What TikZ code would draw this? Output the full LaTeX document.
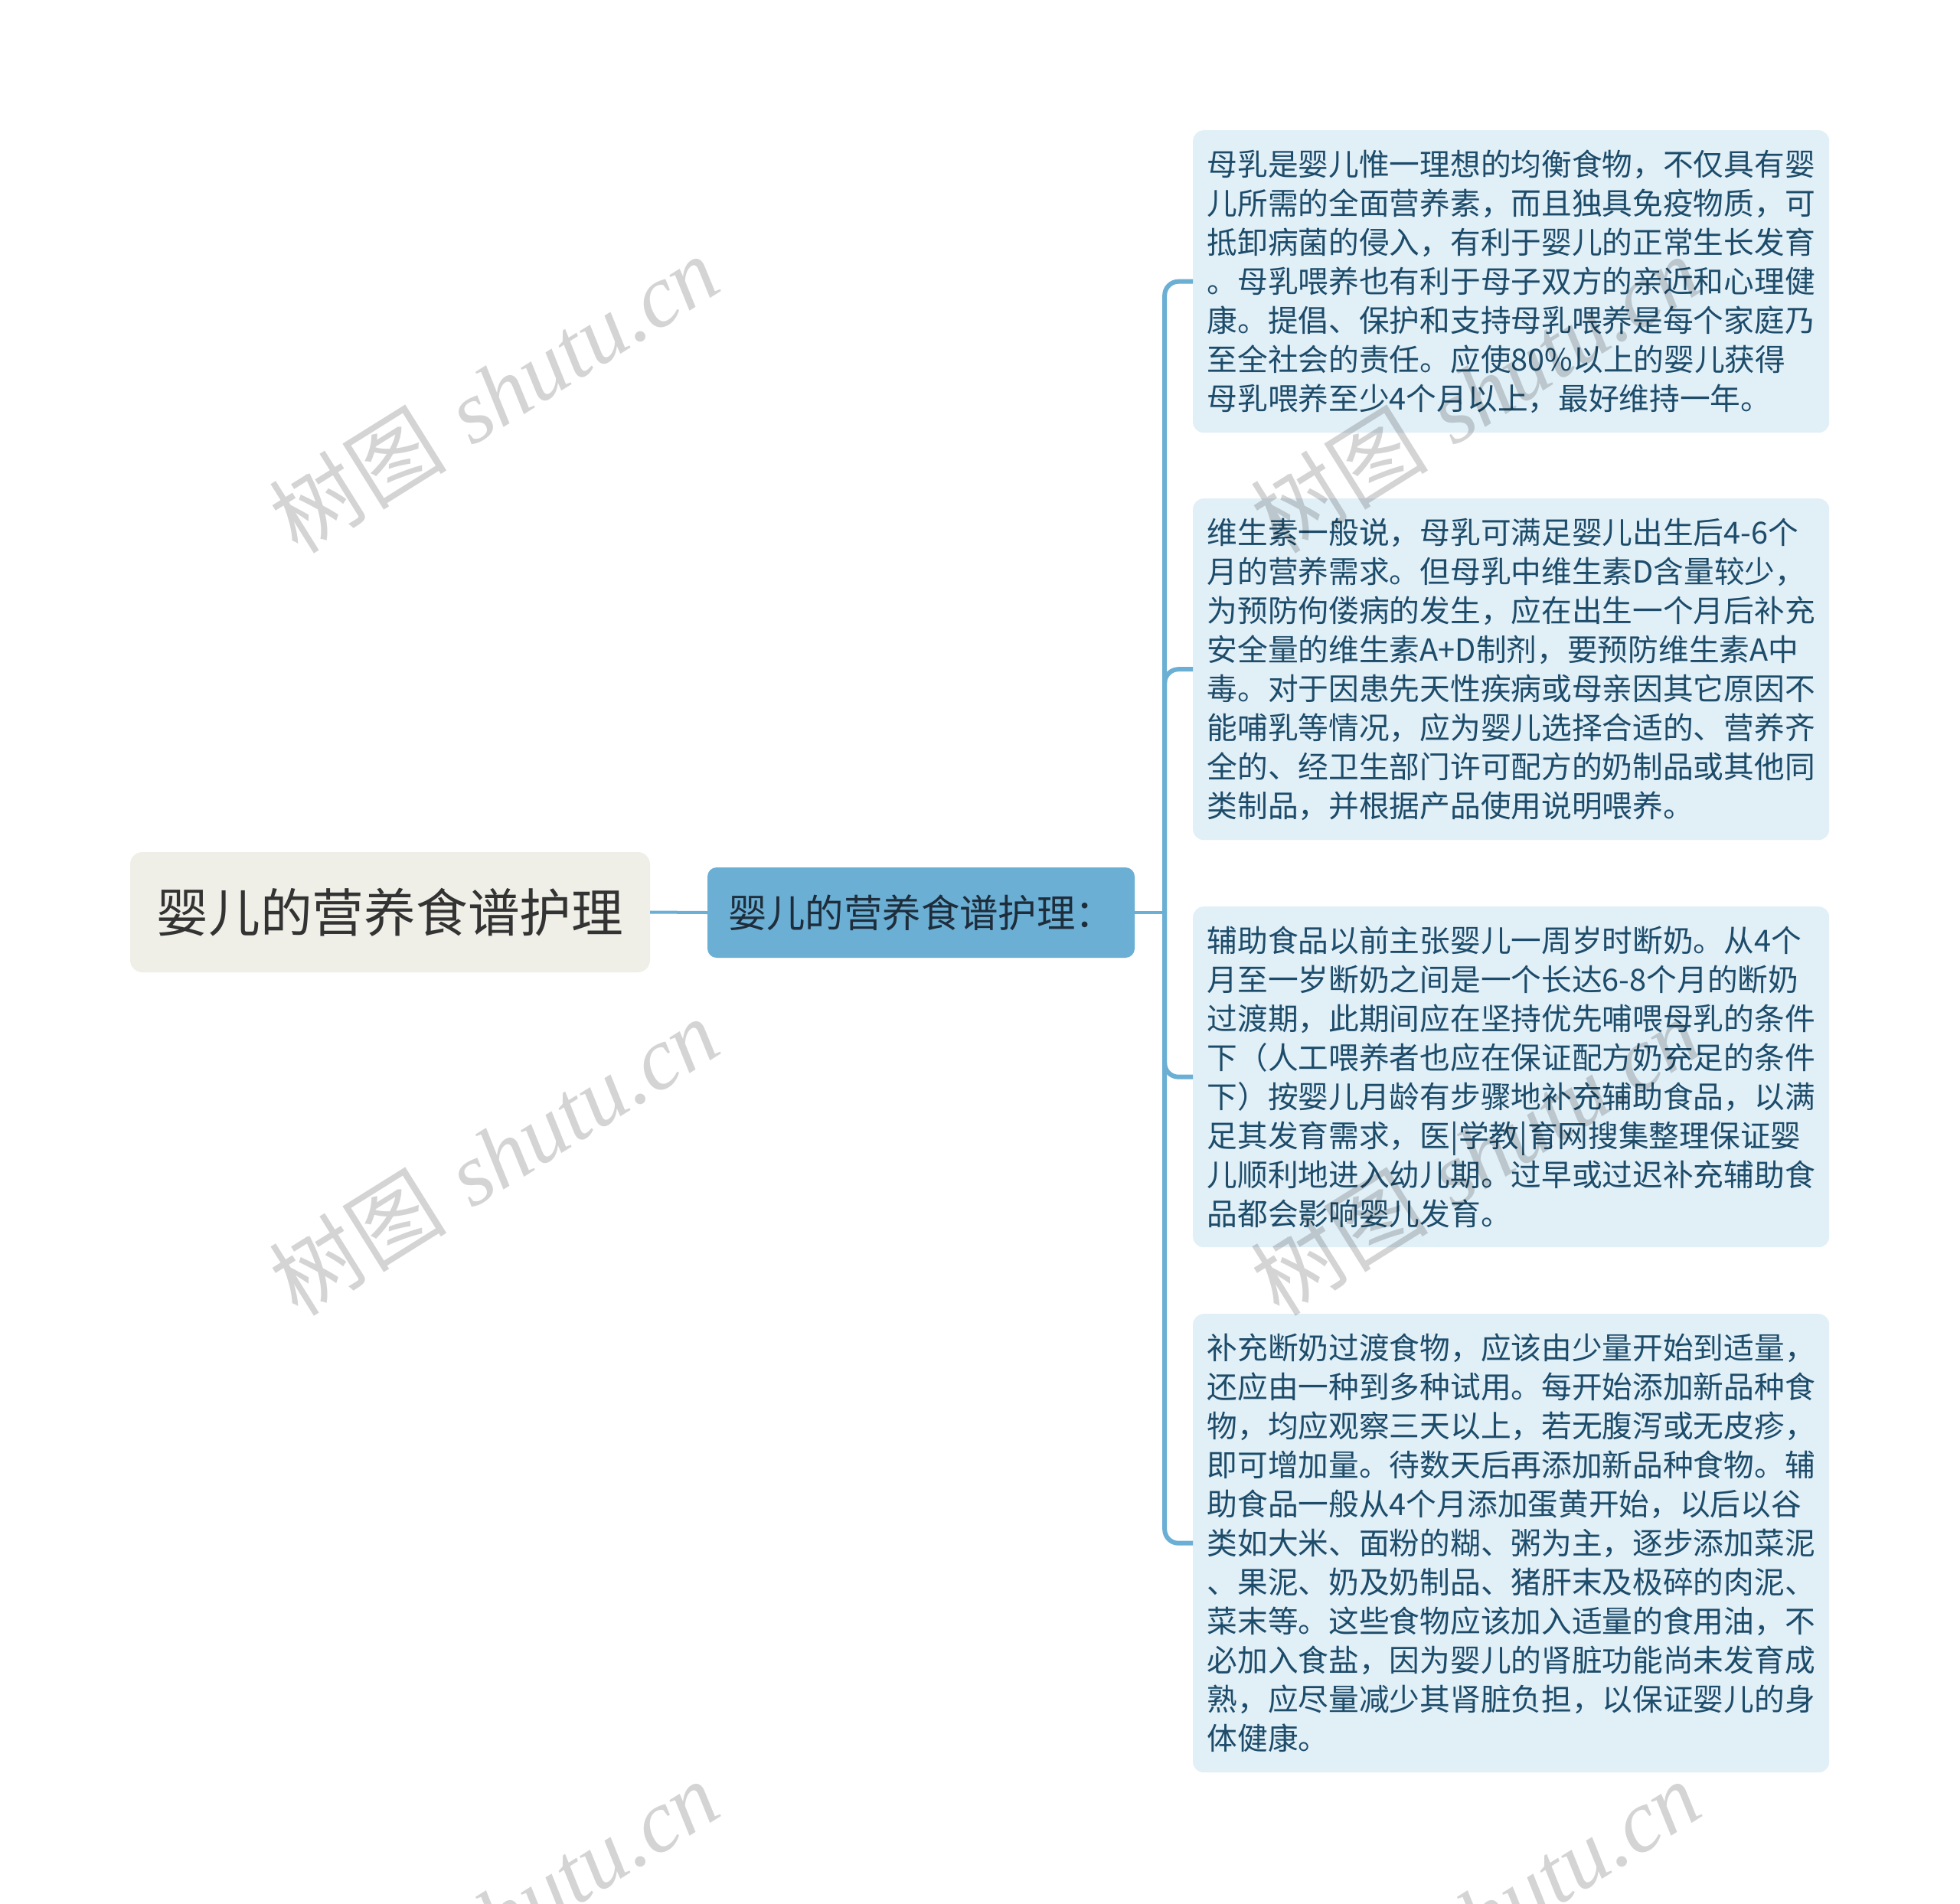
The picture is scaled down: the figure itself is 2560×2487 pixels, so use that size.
\documentclass[tikz,border=0pt]{standalone}
\usepackage{fontspec}
\newfontfamily\cjk{Noto Sans CJK SC}
\newfontfamily\wmlat{Liberation Serif}
\definecolor{rootfill}{HTML}{EFEFE8}
\definecolor{roottext}{HTML}{333333}
\definecolor{midfill}{HTML}{6BAFD4}
\definecolor{midtext}{HTML}{1E2D3B}
\definecolor{leaffill}{HTML}{E1EFF7}
\definecolor{leaftext}{HTML}{1D4C6A}
\definecolor{conncol}{HTML}{6BAFD4}
\tikzset{
  rootbox/.style={fill=rootfill, rounded corners=16pt, minimum width=679pt, minimum height=157pt, inner sep=0pt, text=roottext, font={\cjk\fontsize{67.7pt}{80pt}\selectfont}},
  midbox/.style={fill=midfill, rounded corners=12pt, minimum width=558pt, minimum height=118pt, inner sep=0pt, text=midtext, font={\cjk\fontsize{50.4pt}{60pt}\selectfont}},
  leafbox/.style={fill=leaffill, rounded corners=14pt, minimum width=831pt, inner sep=0pt, text width=794pt, align=left, text=leaftext, anchor=north west, font={\cjk\fontsize{39.7pt}{51pt}\selectfont}},
  conn/.style={draw=conncol, line width=4pt},
  branch/.style={draw=conncol, line width=6pt, rounded corners=18pt},
  wm/.style={rotate=32, text=black, text opacity=0.17, inner sep=0pt, font={\fontsize{116pt}{128pt}\selectfont}}
}
\begin{document}
\begin{tikzpicture}[x=1pt,y=-1pt]
\useasboundingbox (0,0) rectangle (2560,2487);
\fill[white] (0,0) rectangle (2560,2487);

\node[rootbox] (root) at (509.5,1191.5) {婴儿的营养食谱护理};
\node[midbox] (mid) at (1203,1192) {婴儿的营养食谱护理：};

\node[leafbox, minimum height=395pt] (l1) at (1558,170) {母乳是婴儿惟一理想的均衡食物，不仅具有婴\\儿所需的全面营养素，而且独具免疫物质，可\\抵卸病菌的侵入，有利于婴儿的正常生长发育\\。母乳喂养也有利于母子双方的亲近和心理健\\康。提倡、保护和支持母乳喂养是每个家庭乃\\至全社会的责任。应使80\%以上的婴儿获得\\母乳喂养至少4个月以上，最好维持一年。};

\node[leafbox, minimum height=446pt] (l2) at (1558,651) {维生素一般说，母乳可满足婴儿出生后4-6个\\月的营养需求。但母乳中维生素D含量较少，\\为预防佝偻病的发生，应在出生一个月后补充\\安全量的维生素A+D制剂，要预防维生素A中\\毒。对于因患先天性疾病或母亲因其它原因不\\能哺乳等情况，应为婴儿选择合适的、营养齐\\全的、经卫生部门许可配方的奶制品或其他同\\类制品，并根据产品使用说明喂养。};

\node[leafbox, minimum height=445pt] (l3) at (1558,1184) {辅助食品以前主张婴儿一周岁时断奶。从4个\\月至一岁断奶之间是一个长达6-8个月的断奶\\过渡期，此期间应在坚持优先哺喂母乳的条件\\下（人工喂养者也应在保证配方奶充足的条件\\下）按婴儿月龄有步骤地补充辅助食品，以满\\足其发育需求，医|学教|育网搜集整理保证婴\\儿顺利地进入幼儿期。过早或过迟补充辅助食\\品都会影响婴儿发育。};

\node[leafbox, minimum height=599pt] (l4) at (1558,1716) {补充断奶过渡食物，应该由少量开始到适量，\\还应由一种到多种试用。每开始添加新品种食\\物，均应观察三天以上，若无腹泻或无皮疹，\\即可增加量。待数天后再添加新品种食物。辅\\助食品一般从4个月添加蛋黄开始，以后以谷\\类如大米、面粉的糊、粥为主，逐步添加菜泥\\、果泥、奶及奶制品、猪肝末及极碎的肉泥、\\菜末等。这些食物应该加入适量的食用油，不\\必加入食盐，因为婴儿的肾脏功能尚未发育成\\熟，应尽量减少其肾脏负担，以保证婴儿的身\\体健康。};

\coordinate (jn) at ([xshift=39pt]mid.east);
\draw[conn] (root.east) -- (mid.west);
\draw[conn] (mid.east) -- (jn);
\draw[branch] (jn) |- (l1.west);
\draw[branch] (jn) |- (l2.west);
\draw[branch] (jn) |- (l3.west);
\draw[branch] (jn) |- (l4.west);

\foreach \wx/\wy/\wn in {645/514/a, 645/1510/b, 645/2506/c, 1927/514/d, 1927/1510/e, 1927/2506/f}{
  \node[wm] (wm\wn) at (\wx,\wy) {{\cjk 树图} {\wmlat\itshape shutu.cn}};
}
\end{tikzpicture}
\end{document}
